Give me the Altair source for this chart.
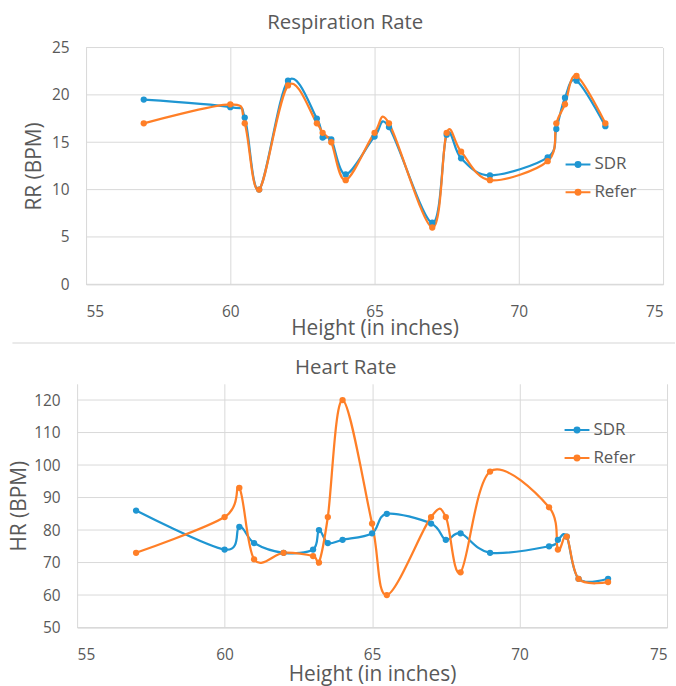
import altair as alt
import pandas as pd

height = [57, 60, 60.5, 61, 62, 63, 63.2, 63.5, 64, 65, 65.5, 67, 67.5, 68, 69, 71, 71.3, 71.6, 72, 73]
rr_sdr = [19.5, 18.7, 17.6, 10, 21.5, 17.5, 15.5, 15.3, 11.6, 15.6, 16.6, 6.5, 15.8, 13.3, 11.5, 13.4, 16.4, 19.7, 21.5, 16.7]
rr_refer = [17, 19, 17, 10, 21, 17, 16, 15, 11, 16, 17, 6, 16, 14, 11, 13, 17, 19, 22, 17]
hr_sdr = [86, 74, 81, 76, 73, 74, 80, 76, 77, 79, 85, 82, 77, 79, 73, 75, 77, 78, 65, 65]
hr_refer = [73, 84, 93, 71, 73, 72, 70, 84, 120, 82, 60, 84, 84, 67, 98, 87, 74, 78, 65, 64]
series = ["SDR", "Refer"]
colors = ["#1f96d2", "#ff7f27"]
x_ticks = [55, 60, 65, 70, 75]
rr_ticks = [0, 5, 10, 15, 20, 25]
hr_ticks = [50, 60, 70, 80, 90, 100, 110, 120]

FONT = "Open Sans"
GRAY = "#595959"
GRID = "#d9d9d9"


def long_table(a, b):
    rows = []
    for name, vals in zip(series, [a, b]):
        for i, (h, v) in enumerate(zip(height, vals)):
            rows.append({"height": h, "value": v, "series": name, "idx": i})
    return pd.DataFrame(rows)


legend_path = ("M-1,0L1,0"
               "M-0.2,0A0.2,0.2 0 1,0 0.2,0A0.2,0.2 0 1,0 -0.2,0"
               "M-0.06,0A0.06,0.06 0 1,0 0.06,0A0.06,0.06 0 1,0 -0.06,0")


def panel(df, title, ytitle, ydomain, yticks, w, x0, h, lx, ly, ypad, ytp, toff, tdx,
          xtp, sep=None):
    xenc = alt.X("height:Q",
                 scale=alt.Scale(domain=[55, 75], nice=False, zero=False, range=[x0, x0 + w]),
                 axis=alt.Axis(values=x_ticks, title="Height (in inches)", grid=True,
                               gridColor=GRID, domainColor="#cfcfcf", ticks=False,
                               labelPadding=20, labelFont=FONT, labelFontSize=15.5,
                               labelColor=GRAY, titleFont=FONT, titleFontSize=21,
                               titleFontWeight="normal", titleColor=GRAY, titlePadding=xtp))
    yenc = alt.Y("value:Q",
                 scale=alt.Scale(domain=ydomain, nice=False, zero=False),
                 axis=alt.Axis(values=yticks, title=ytitle, grid=False,
                               domain=False, ticks=False, labelPadding=ypad,
                               labelFont=FONT, labelFontSize=15.5, labelColor=GRAY,
                               titleFont=FONT, titleFontSize=21, titleFontWeight="normal",
                               titleColor=GRAY, titlePadding=ytp))
    color = alt.Color("series:N",
                      scale=alt.Scale(domain=series, range=colors),
                      legend=alt.Legend(title=None, orient="none", legendX=lx, legendY=ly,
                                        symbolType=legend_path, symbolSize=625,
                                        symbolStrokeWidth=2, labelFont=FONT,
                                        labelFontSize=17, labelColor=GRAY, rowPadding=6,
                                        padding=0, labelOffset=3))
    # horizontal gridlines drawn between the first and last x tick
    grid = alt.Chart(pd.DataFrame({"value": yticks})).mark_rule(
        color=GRID, strokeWidth=1).encode(
        x=alt.datum(x_ticks[0]), x2=alt.datum(x_ticks[-1]), y=yenc)
    base = alt.Chart(df)
    line = base.mark_line(interpolate="cardinal", tension=0, strokeWidth=2.25).encode(
        x=xenc, y=yenc, color=color, order="idx:Q")
    pts = base.mark_point(filled=True, size=40, opacity=1).encode(x=xenc, y=yenc, color=color)
    layers = [grid, line, pts]
    if sep is not None:
        rule = alt.Chart(pd.DataFrame({"k": [0]})).mark_rule(
            color="#e3e3e3", strokeWidth=1.5).encode(
            x=alt.value(sep[0]), x2=alt.value(x0 + w + sep[1]), y=alt.value(h + 59))
        layers.append(rule)
    return alt.layer(*layers).properties(
        width=x0 + w, height=h,
        title=alt.Title(title, font=FONT, fontSize=20.5, fontWeight="normal", color=GRAY,
                        anchor="middle", offset=toff, dx=tdx))


top = panel(long_table(rr_sdr, rr_refer), "Respiration Rate", "RR (BPM)", [0, 25], rr_ticks,
            580, 9, 238, 490, 104, 8, 7, 7, -25, -2, sep=(-65, 12))
bottom = panel(long_table(hr_sdr, hr_refer), "Heart Rate", "HR (BPM)", [50, 125], hr_ticks,
               593, 0, 245, 489, 33, 17, 4, 5.5, -26.5, 1)

chart = alt.vconcat(top, bottom, spacing=14).resolve_scale(
    color="independent").resolve_legend(color="independent").configure_view(
    strokeWidth=0).properties(padding={"left": 8.5, "top": 11, "right": 0, "bottom": 0})

chart.save("out.html", embed_options={"renderer": "svg", "actions": False})
